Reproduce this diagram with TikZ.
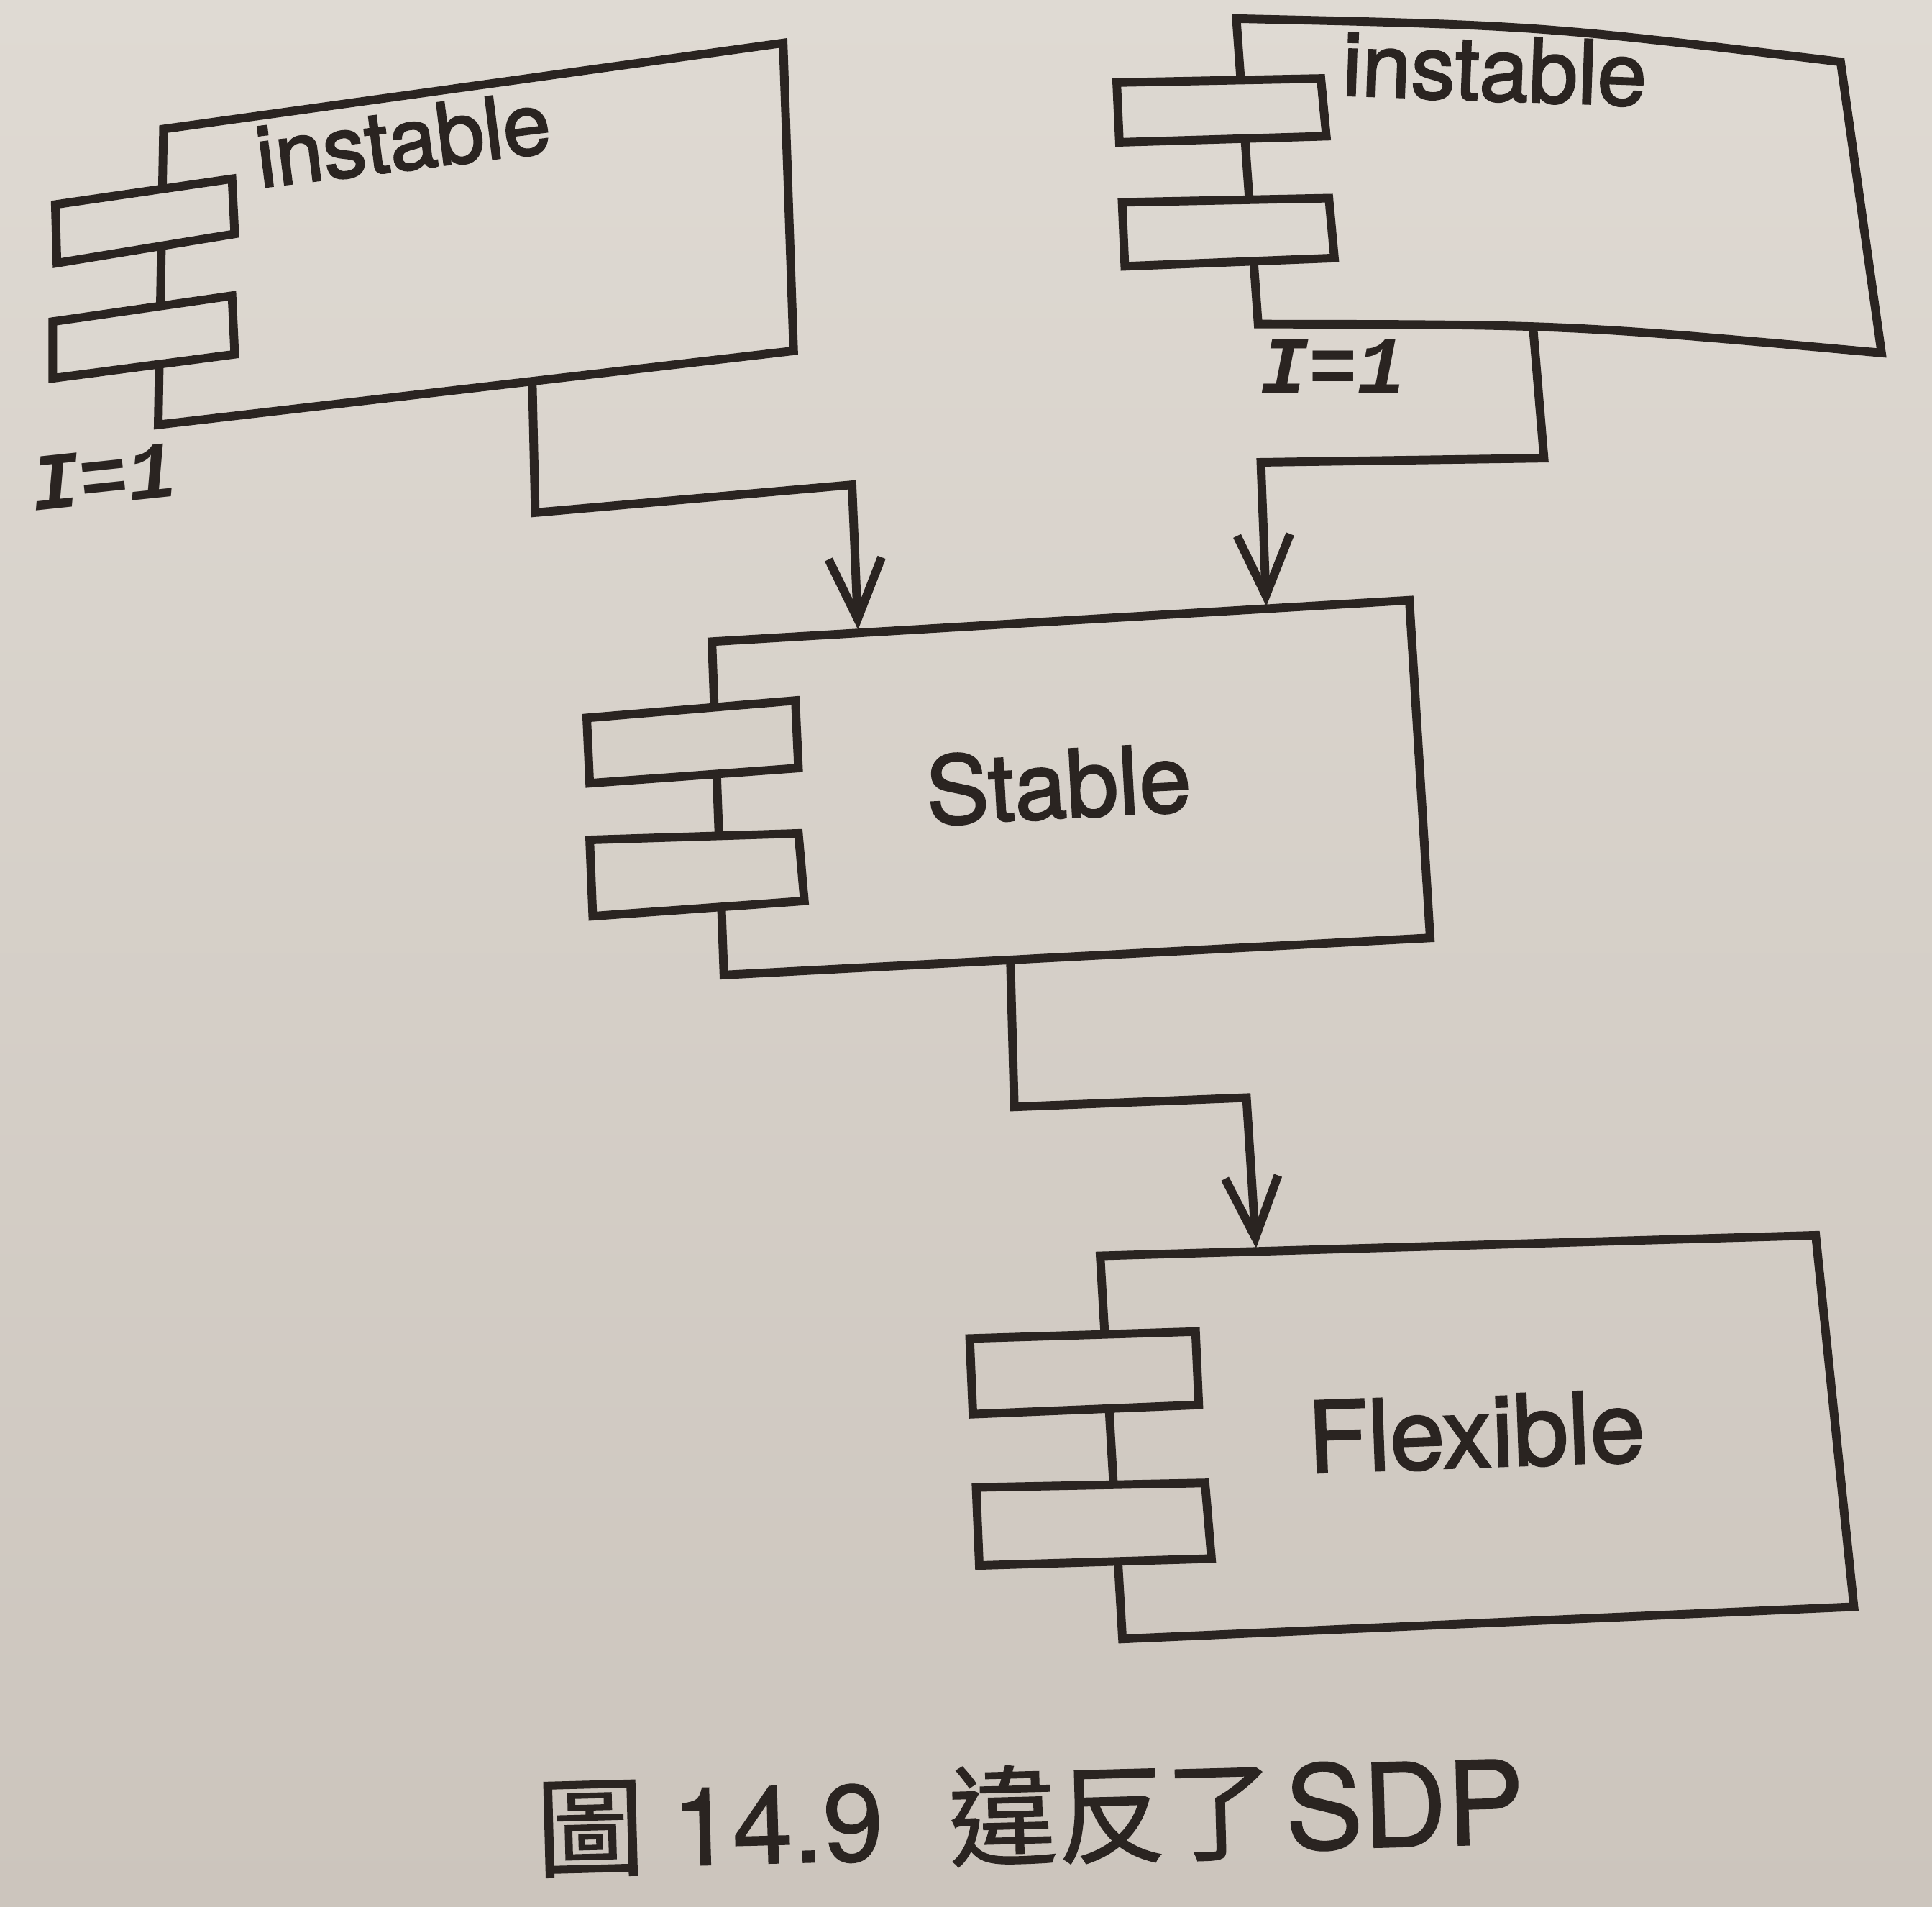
\documentclass[tikz,border=0pt]{standalone}
\usepackage{fontspec}
\setmainfont{TeX Gyre Heros}
\newfontfamily\lblfont[FakeBold=2]{TeX Gyre Heros}
\newfontfamily\captfont[FakeBold=1]{TeX Gyre Heros}
\newfontfamily\cjk[FakeBold=1]{Noto Sans CJK TC}
\newfontfamily\codefont{Liberation Mono}
\usetikzlibrary{arrows.meta}
\definecolor{ink}{RGB}{42,36,33}
\definecolor{papertop}{RGB}{223,218,211}
\definecolor{paperbot}{RGB}{204,197,189}
\definecolor{paperA}{RGB}{220,215,208}
\definecolor{paperS}{RGB}{214,208,200}
\definecolor{paperF}{RGB}{209,202,194}
\tikzset{
  body/.style={draw=ink, line width=3.4pt, line join=miter},
  port/.style={draw=ink, line width=3.4pt, line join=miter},
  conn/.style={draw=ink, line width=3.4pt, line join=miter,
    -{Straight Barb[length=24pt,width=21pt,line width=3.4pt]}},
  lbl/.style={text=ink, inner sep=0pt, font=\lblfont\fontsize{37}{40}\selectfont},
  ival/.style={text=ink, inner sep=0pt, font=\codefont\bfseries\itshape\fontsize{32}{34}\selectfont},
  capt/.style={text=ink, inner sep=0pt, font=\captfont\fontsize{43}{46}\selectfont}
}
\begin{document}
\begin{tikzpicture}[x=0.017136cm, y=-0.017136cm]
\useasboundingbox (0,0) rectangle (1568,1547);
\shade[top color=papertop, bottom color=paperbot] (0,0) rectangle (1568,1547);

% ---------- component A (top left) ----------
\coordinate (A1) at (132.7,104.7);
\coordinate (A2) at (635.6,34.9);
\coordinate (A3) at (644.1,284.7);
\coordinate (A4) at (128.4,344.7);
\draw[body] (A1) -- (A2) -- (A3) -- (A4) -- cycle;
\filldraw[port, fill=paperA] (44.9,166) -- (188.3,145.1) -- (190.5,189.8) -- (46.2,213.5) -- cycle;
\filldraw[port, fill=paperA] (42.8,261) -- (188.3,240) -- (190.5,287.5) -- (42.8,307) -- cycle;
\node[lbl, rotate=7, font=\lblfont\fontsize{34}{36}\selectfont] (nameA) at (327,113) {instable};
\node[ival, rotate=6] (iA) at (84,387) {I=1};

% ---------- component B (top right) ----------
\coordinate (B1) at (1003.4,15.1);
\coordinate (B2) at (1493.8,50.2);
\coordinate (B3) at (1527,286.4);
\coordinate (B4) at (1021.1,263);
\draw[body] (B1) .. controls (1248.6,20.6) .. (B2) -- (B3) .. controls (1274,263.4) .. (B4) -- cycle;
\filldraw[port, fill=paperA] (906.3,67) -- (1072,63.7) -- (1076.4,110.5) -- (908.5,115.5) -- cycle;
\filldraw[port, fill=paperA] (910.7,164.2) -- (1078.5,160.8) -- (1083,209.4) -- (912.9,216.1) -- cycle;
\node[lbl, rotate=-2, font=\lblfont\fontsize{35}{38}\selectfont] (nameB) at (1213,56) {instable};
\node[ival] (iB) at (1082,297) {I=1};

% ---------- component Stable ----------
\coordinate (S1) at (577.8,520.7);
\coordinate (S2) at (1143.8,487.1);
\coordinate (S3) at (1160.7,761.1);
\coordinate (S4) at (587.5,791.2);
\draw[body] (S1) -- (S2) -- (S3) -- (S4) -- cycle;
\filldraw[port, fill=paperS] (476.2,582.6) -- (645.5,568.5) -- (648,623.3) -- (478.6,635.6) -- cycle;
\filldraw[port, fill=paperS] (478.6,681.6) -- (648,676.3) -- (652.8,731.1) -- (481.1,743.5) -- cycle;
\node[lbl, rotate=3] (nameS) at (859,636) {Stable};

% ---------- component Flexible ----------
\coordinate (F1) at (892.9,1019.2);
\coordinate (F2) at (1473.6,1002.5);
\coordinate (F3) at (1504.6,1303.9);
\coordinate (F4) at (911,1330);
\draw[body] (F1) -- (F2) -- (F3) -- (F4) -- cycle;
\filldraw[port, fill=paperF] (787,1086.2) -- (970.3,1080.6) -- (972.9,1140.1) -- (789.6,1147.6) -- cycle;
\filldraw[port, fill=paperF] (792.2,1207.1) -- (978,1203.4) -- (983.2,1264.8) -- (794.8,1270.4) -- cycle;
\node[lbl, rotate=2, font=\lblfont\fontsize{39}{42}\selectfont] (nameF) at (1198,1162) {Flexible};

% ---------- connector end points ----------
\coordinate (Aout) at (432,309.4);
\coordinate (SinA) at (696.4,511);
\coordinate (Bout) at (1244.2,265.5);
\coordinate (SinB) at (1027.7,492);
\coordinate (Sout) at (820,779);
\coordinate (FinS) at (1019.4,1013);

\draw[conn] (Aout) -- (434.4,416) -- (691.5,393.4) -- (SinA);
\draw[conn] (Bout) -- (1253.1,371.8) -- (1023.3,375.2) -- (SinB);
\draw[conn] (Sout) -- (823.2,898.2) -- (1011.6,890.8) -- (FinS);

% ---------- caption ----------
\node[capt, rotate=1.5] (cap) at (836,1473) {{\cjk 圖}\hspace{0.25em}14.9\hspace{0.6em}{\cjk 違反了}\hspace{0.1em}{\fontsize{46}{48}\selectfont SDP}};
\end{tikzpicture}
\end{document}
